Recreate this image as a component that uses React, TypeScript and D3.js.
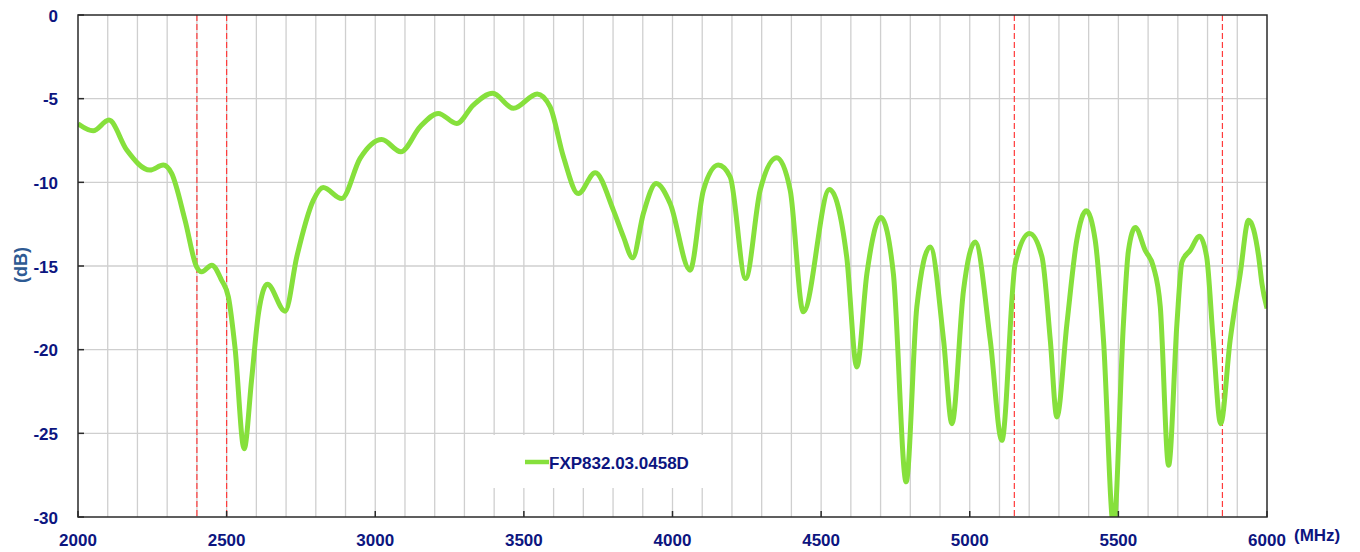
import React, { useEffect, useRef } from 'react';
import * as d3 from 'd3';

// S-parameter trace (MHz, dB)
const freqs = [
  2000, 2051, 2104, 2164, 2242, 2287, 2315, 2360, 2399, 2416, 2450, 2483, 2506, 2528, 2559, 2584, 2607, 2637, 2697,
  2736, 2792, 2825, 2887, 2949, 3022, 3086, 3151, 3212, 3274, 3330, 3395, 3465, 3545, 3588, 3633, 3683,
  3740, 3801, 3835, 3866, 3902, 3945, 3992, 4059, 4104, 4154, 4194, 4246, 4295, 4351, 4396, 4440,
  4528, 4586, 4620, 4654, 4701, 4743, 4786, 4822, 4867, 4912, 4940, 4979, 5018, 5069, 5108, 5153,
  5201, 5243, 5271, 5293, 5327, 5360, 5392, 5422, 5450, 5484, 5517, 5534, 5557, 5590, 5618, 5641,
  5669, 5697, 5714, 5742, 5773, 5797, 5819, 5844, 5876, 5910, 5938, 5972, 5983, 6000,
];
const values = [
  -6.5, -6.92, -6.28, -8.07, -9.27, -8.97, -9.47, -12.26, -15.05, -15.35, -14.95, -15.85, -16.85, -19.84, -25.92, -21.8, -17.85, -16.09, -17.7,
  -14.45, -11.06, -10.31, -10.97, -8.57, -7.44, -8.17, -6.68, -5.88, -6.48, -5.38, -4.68, -5.58, -4.72, -5.48, -8.47, -10.67,
  -9.43, -11.66, -13.26, -14.51, -11.86, -10.07, -11.26, -15.25, -10.47, -8.97, -9.67, -15.75, -10.47, -8.53, -10.47, -17.74,
  -10.43, -14.45, -21.03, -15.45, -12.1, -15.45, -27.9, -17.44, -13.86, -19.44, -24.42, -16.45, -13.56, -19.44, -25.42, -14.85,
  -13.06, -14.45, -19.44, -24.02, -18.44, -13.46, -11.7, -13.46, -19.44, -30.6, -18.44, -14.06, -12.7, -14.06, -15.05, -17.44,
  -26.91, -18.44, -14.75, -14.06, -13.22, -14.45, -19.44, -24.42, -19.44, -15.45, -12.26, -14.45, -16.05, -17.54,
];
const markers = [2400, 2500, 5150, 5850];
const xTicks = [2000, 2500, 3000, 3500, 4000, 4500, 5000, 5500, 6000];
const yTicks = [0, -5, -10, -15, -20, -25, -30];
const seriesName = 'FXP832.03.0458D';

const W = 1360;
const H = 552;
const m = { left: 78, top: 15, right: 93, bottom: 35 };
const font = 'Arial, "Liberation Sans", sans-serif';
const navy = '#0c1580';

export default function App() {
  const ref = useRef<SVGSVGElement>(null);

  useEffect(() => {
    const svg = d3.select(ref.current);
    svg.selectAll('*').remove();
    const x = d3.scaleLinear().domain([2000, 6000]).range([m.left, W - m.right]);
    const y = d3.scaleLinear().domain([-30, 0]).range([H - m.bottom, m.top]);
    const [x0, x1] = x.range();
    const [y1, y0] = y.range();

    svg.append('defs').append('clipPath').attr('id', 'plot')
      .append('rect').attr('x', x0).attr('y', y0).attr('width', x1 - x0).attr('height', y1 - y0);

    // grid
    const g = svg.append('g');
    g.selectAll('line.v').data(d3.range(2100, 6000, 100)).join('line')
      .attr('x1', d => x(d)).attr('x2', d => x(d)).attr('y1', y0).attr('y2', y1)
      .attr('stroke', '#cfcfcf').attr('stroke-width', 1.3);
    g.selectAll('line.h').data(yTicks.slice(1, -1)).join('line')
      .attr('x1', x0).attr('x2', x1).attr('y1', d => y(d)).attr('y2', d => y(d))
      .attr('stroke', '#cfcfcf').attr('stroke-width', 1.3);

    // band markers
    svg.selectAll('line.mk').data(markers).join('line')
      .attr('x1', d => x(d)).attr('x2', d => x(d)).attr('y1', y0).attr('y2', y1)
      .attr('stroke', '#ff3b3b').attr('stroke-width', 1.2).attr('stroke-dasharray', '6,3');

    // legend box
    svg.append('rect').attr('x', 491).attr('y', 435).attr('width', 236).attr('height', 53).attr('fill', '#fff');
    svg.append('line').attr('x1', 525).attr('x2', 549).attr('y1', 462).attr('y2', 462)
      .attr('stroke', '#86e03c').attr('stroke-width', 4.5);
    svg.append('text').attr('x', 549).attr('y', 469).attr('font-family', font).attr('font-weight', 'bold')
      .attr('font-size', 17).attr('fill', navy).text(seriesName);

    // trace
    const line = d3.line<number>()
      .x((_, i) => x(freqs[i]))
      .y(d => y(d))
      .curve(d3.curveMonotoneX);
    svg.append('path').datum(values).attr('d', line).attr('clip-path', 'url(#plot)')
      .attr('fill', 'none').attr('stroke', '#86e03c').attr('stroke-width', 5).attr('stroke-linejoin', 'round');

    // frame
    svg.append('rect').attr('x', x0).attr('y', y0).attr('width', x1 - x0).attr('height', y1 - y0)
      .attr('fill', 'none').attr('stroke', '#2a2a2a').attr('stroke-width', 1.5);

    // ticks
    svg.selectAll('line.yt').data(yTicks).join('line')
      .attr('x1', x0).attr('x2', x0 + 6).attr('y1', d => y(d)).attr('y2', d => y(d))
      .attr('stroke', '#2a2a2a').attr('stroke-width', 1.5);
    svg.selectAll('line.xt').data(xTicks).join('line')
      .attr('x1', d => x(d)).attr('x2', d => x(d)).attr('y1', y1).attr('y2', y1 - 6)
      .attr('stroke', '#2a2a2a').attr('stroke-width', 1.5);

    // labels
    svg.selectAll('text.yl').data(yTicks).join('text')
      .attr('x', 58).attr('y', d => y(d) + 6.5).attr('text-anchor', 'end')
      .attr('font-family', font).attr('font-weight', 'bold').attr('font-size', 17).attr('fill', navy)
      .text(d => d);
    svg.selectAll('text.xl').data(xTicks).join('text')
      .attr('x', d => x(d)).attr('y', y1 + 29).attr('text-anchor', 'middle')
      .attr('font-family', font).attr('font-weight', 'bold').attr('font-size', 17).attr('fill', navy)
      .text(d => d);
    svg.append('text').attr('x', 1294).attr('y', 541)
      .attr('font-family', font).attr('font-weight', 'bold').attr('font-size', 17).attr('fill', navy)
      .text('(MHz)');
    svg.append('text').attr('transform', 'translate(27,265) rotate(-90)').attr('text-anchor', 'middle')
      .attr('font-family', font).attr('font-weight', 'bold').attr('font-size', 18).attr('fill', '#2e5a93')
      .text('(dB)');
  }, []);

  return (
    <svg ref={ref} width={W} height={H}
      style={{ position: 'absolute', left: 0, top: 0, background: '#fff' }} />
  );
}
